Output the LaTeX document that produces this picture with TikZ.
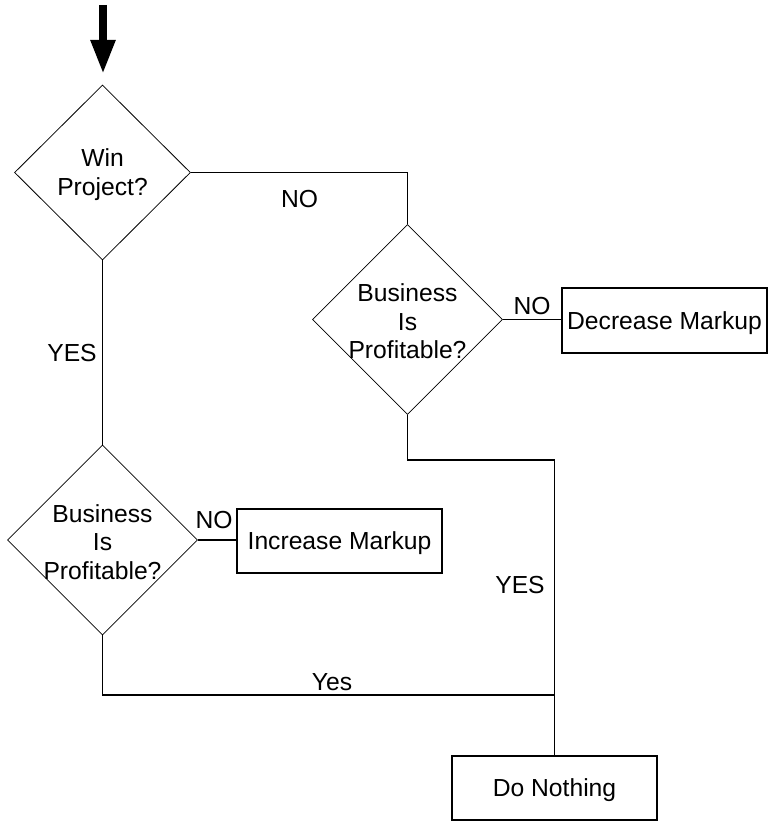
\documentclass[tikz,border=0pt]{standalone}
\usepackage{fontspec}
\setmainfont{Liberation Sans}
\usetikzlibrary{shapes.geometric,arrows.meta}
\begin{document}
\begin{tikzpicture}[x=0.75pt,y=-0.75pt,
  dia/.style={diamond,draw,line width=0.6pt,inner sep=0pt,minimum width=142.5pt,minimum height=142.5pt},
  txt/.style={align=center,font=\fontsize{18.5}{21.4}\selectfont,inner sep=0pt,yshift=-1.5pt},
  box/.style={rectangle,draw,line width=0.9pt,inner sep=0pt,minimum width=153.75pt,minimum height=48pt,text depth=0pt,font=\fontsize{18.5}{21.4}\selectfont},
  conn/.style={line width=0.9pt},
  lbl/.style={font=\fontsize{18.5}{21.4}\selectfont,inner sep=0pt}]
\useasboundingbox (0,0) rectangle (780,838);
% start arrow
\coordinate (arrTop) at (103,5);
\coordinate (arrTip) at (103,74);
\draw[line width=6pt,-{Triangle[width=17.25pt,length=25.5pt]}] (arrTop) -- (arrTip);
% diamonds
\node[dia,minimum width=132pt,minimum height=131.25pt] (d1) at (102.5,172.5) {};
\node[txt] (t1) at (d1.center) {Win\\Project?};
\node[dia] (d2) at (407.5,319.5) {};
\node[txt] (t2) at (d2.center) {Business\\Is\\Profitable?};
\node[dia] (d3) at (102.5,540) {};
\node[txt] (t3) at (d3.center) {Business\\Is\\Profitable?};
% boxes
\node[box,minimum height=48.75pt] (dec) at (664.5,320.5) {Decrease Markup};
\node[box] (inc) at (339.5,541) {Increase Markup};
\node[box] (dn) at (554.5,788) {Do Nothing};
% junctions
\coordinate (j1) at (554.5,460);
\coordinate (j2) at (554.5,695);
% connectors
\draw[conn] (d1.east) -| (d2.north);
\draw[conn] (d2.east) -- (dec.west |- d2.east);
\draw[conn] (d1.south) -- (d3.north);
\draw[conn] (d3.east) -- (inc.west |- d3.east);
\draw[conn] (d2.south) |- (j1) -- (dn.north);
\draw[conn] (d3.south) |- (j2);
% labels
\node[lbl] (l1) at (299.5,199) {NO};
\node[lbl] (l2) at (532,306) {NO};
\node[lbl] (l3) at (72,353) {YES};
\node[lbl] (l4) at (214,520) {NO};
\node[lbl] (l5) at (520,585) {YES};
\node[lbl] (l6) at (332,682) {Yes};
\end{tikzpicture}
\end{document}
